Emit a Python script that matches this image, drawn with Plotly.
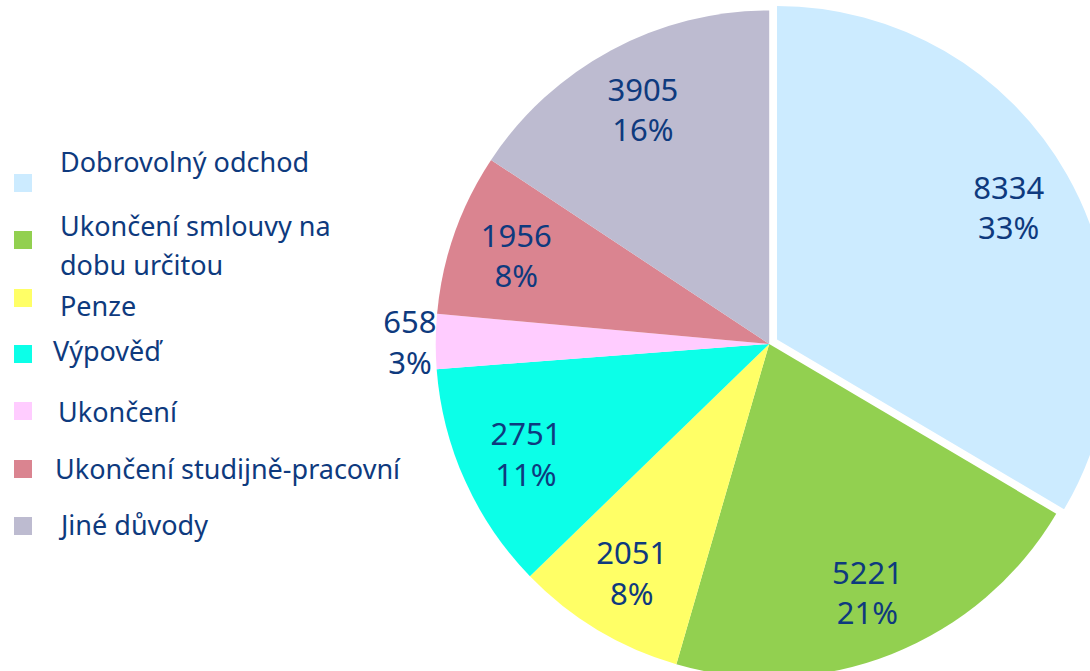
import plotly.graph_objects as go

categories = ["Dobrovolný odchod", "Ukončení smlouvy na dobu určitou", "Penze", "Výpověď",
              "Ukončení", "Ukončení studijně-pracovní", "Jiné důvody"]
values = [8334, 5221, 2051, 2751, 658, 1956, 3905]
pct_labels = ["33%", "21%", "8%", "11%", "3%", "8%", "16%"]
colors = ["#CCEBFF", "#92D050", "#FFFF66", "#0CFFE8", "#FFCCFF", "#DA8490", "#BDBBD0"]
pulls = [0.027, 0, 0, 0, 0, 0, 0]
legend_lines = [["Dobrovolný odchod"], ["Ukončení smlouvy na", "dobu určitou"], ["Penze"],
                ["Výpověď"], ["Ukončení"], ["Ukončení studijně-pracovní"], ["Jiné důvody"]]

TXT = "#0E3A7E"
FONT = "Noto Sans"
W, H = 1140, 720
OFF = 20  # the graph div is shifted up by this many px on the page

cx, cy, size = 769.2, 363.9, 685
dom = dict(x=[(cx - size / 2) / W, (cx + size / 2) / W],
           y=[(H - cy - size / 2) / H, (H - cy + size / 2) / H])
s2 = size - 44
dom_small = dict(x=[(cx - s2 / 2) / W, (cx + s2 / 2) / W],
                 y=[(H - cy - s2 / 2) / H, (H - cy + s2 / 2) / H])

tmpl = "%{value}<br>%{customdata}"
fig = go.Figure()
fig.add_trace(go.Pie(
    labels=categories, values=values,
    textinfo="none",
    marker=dict(colors=colors, line=dict(width=0)),
    sort=False, direction="clockwise", rotation=0, pull=pulls,
    showlegend=False, hoverinfo="label+value",
    domain=dom,
))
# label ring (transparent) so the value labels sit near the rim
fig.add_trace(go.Pie(
    labels=categories, values=values, customdata=pct_labels,
    texttemplate=[tmpl, tmpl, tmpl, tmpl, "", tmpl, tmpl],
    textposition="inside",
    insidetextorientation="horizontal",
    textfont=dict(family=FONT, size=31, color=TXT),
    marker=dict(colors=["rgba(0,0,0,0)"] * len(values), line=dict(width=0)),
    sort=False, direction="clockwise", rotation=0, pull=pulls, hole=0.6,
    showlegend=False, hoverinfo="skip",
    domain=dom,
))
# small-slice label placed just outside the rim
fig.add_trace(go.Pie(
    labels=categories, values=values, customdata=pct_labels,
    texttemplate=["", "", "", "", tmpl, "", ""],
    textposition="outside",
    textfont=dict(family=FONT, size=31, color=TXT),
    marker=dict(colors=["rgba(0,0,0,0)"] * len(values), line=dict(width=0)),
    sort=False, direction="clockwise", rotation=0, pull=pulls,
    showlegend=False, hoverinfo="skip",
    domain=dom_small,
))

# legend drawn manually (screen coordinates)
leg_sq_y = [183, 240, 298, 354, 411, 469, 526]
leg_txt_y = [[161], [225, 265], [306], [351], [411], [468], [524]]
leg_txt_x = [58, 58, 58, 51, 56, 53, 56]
shapes = []
annotations = []
for i, lines in enumerate(legend_lines):
    yc = leg_sq_y[i] + OFF
    shapes.append(dict(type="rect", xref="paper", yref="paper",
                       x0=14 / W, x1=32 / W,
                       y0=1 - (yc + 9) / H, y1=1 - (yc - 9) / H,
                       fillcolor=colors[i], line=dict(width=0)))
    for line, ty in zip(lines, leg_txt_y[i]):
        annotations.append(dict(text=line, xref="paper", yref="paper",
                                x=leg_txt_x[i] / W, y=1 - (ty + OFF) / H,
                                xanchor="left", yanchor="middle", align="left",
                                showarrow=False,
                                font=dict(family=FONT, size=27, color=TXT)))

fig.update_layout(
    width=W, height=H, autosize=False,
    margin=dict(l=0, r=0, t=0, b=0),
    paper_bgcolor="white", plot_bgcolor="white",
    shapes=shapes, annotations=annotations,
)

fig.write_html(
    "out.html",
    config={"displayModeBar": False},
    post_script=("document.body.style.margin='0';document.body.style.overflow='hidden';"
                 "var gd=document.getElementById('{plot_id}');gd.style.position='relative';"
                 "gd.style.top='-%dpx';" % OFF),
)
